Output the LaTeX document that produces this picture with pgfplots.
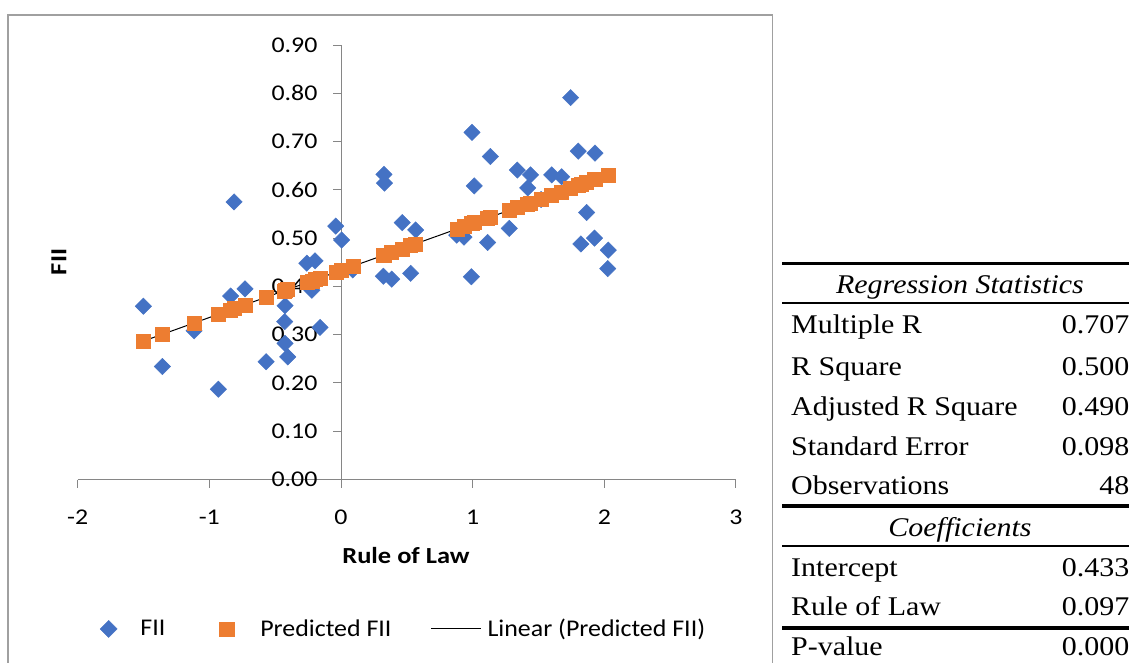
\documentclass[border=0pt]{standalone}
\usepackage{pgfplots}
\pgfplotsset{compat=1.18}
\usepackage{pgfplotstable}
\usepackage{fontspec}
\setmainfont{Carlito}
\newfontfamily\tickfont{Carlito}[FakeStretch=1.15]
\newfontfamily\legfont{Carlito}[FakeStretch=1.08]
\newfontfamily\tabfont{Liberation Serif}[FakeStretch=1.11]
\definecolor{fiiblue}{HTML}{4472C4}
\definecolor{predorange}{HTML}{ED7D31}
\definecolor{axisgray}{HTML}{868686}
\definecolor{framegray}{HTML}{A0A0A0}

\pgfplotstableread{
x y p
-1.501 0.359 0.287
-1.357 0.234 0.301
-1.116 0.308 0.324
-0.932 0.187 0.342
-0.838 0.380 0.351
-0.812 0.575 0.354
-0.729 0.395 0.362
-0.569 0.244 0.378
-0.425 0.360 0.392
-0.428 0.327 0.391
-0.425 0.282 0.392
-0.405 0.254 0.394
-0.260 0.448 0.408
-0.222 0.392 0.411
-0.197 0.453 0.414
-0.159 0.315 0.418
-0.040 0.525 0.429
0.005 0.496 0.433
0.089 0.434 0.442
0.322 0.421 0.464
0.326 0.632 0.465
0.330 0.614 0.465
0.385 0.415 0.471
0.465 0.532 0.478
0.529 0.427 0.485
0.567 0.517 0.488
0.879 0.506 0.519
0.934 0.502 0.524
0.990 0.420 0.530
0.995 0.719 0.530
1.012 0.608 0.532
1.114 0.491 0.542
1.134 0.669 0.544
1.278 0.520 0.558
1.339 0.641 0.564
1.418 0.604 0.571
1.440 0.631 0.573
1.520 0.580 0.581
1.600 0.631 0.589
1.676 0.627 0.596
1.744 0.791 0.603
1.802 0.680 0.609
1.822 0.488 0.611
1.866 0.553 0.615
1.925 0.500 0.621
1.929 0.676 0.621
2.026 0.437 0.631
2.030 0.475 0.631
}\fiidata

\pgfplotstableread{
x y
-1.501 0.2867
2.030 0.6309
}\trenddata

\begin{document}
\begin{tikzpicture}[x=1pt,y=1pt]
\useasboundingbox (0,0) rectangle (1129,662);
\clip (0,0) rectangle (1129,662);
\fill[white] (0,0) rectangle (1129,662);
\draw[framegray, line width=1.4pt] (8,-10) rectangle (772.7,647);
\begin{axis}[
  at={(341pt,182.5pt)}, anchor=origin,
  scale only axis, width=658.3pt, height=434.5pt,
  xmin=-2, xmax=3, ymin=0, ymax=0.9,
  axis lines=middle,
  axis line style={-, draw=axisgray, line width=1pt},
  clip=false,
  hide obscured x ticks=false, hide obscured y ticks=false,
  xtick={-2,-1,0,1,2,3},
  ytick={0,0.1,0.2,0.3,0.4,0.5,0.6,0.7,0.8,0.9},
  tick align=outside,
  major tick length=8pt,
  tick style={draw=axisgray, line width=1pt},
  /pgf/number format/assume math mode=true,
  yticklabel style={/pgf/number format/fixed, /pgf/number format/fixed zerofill, /pgf/number format/precision=2},
  xticklabel style={font=\tickfont\fontsize{22.5}{26}\selectfont, anchor=center, yshift=-30pt},
  yticklabel style={font=\tickfont\fontsize{22.5}{26}\selectfont, anchor=east, xshift=-12pt},
  every axis x label/.style={at={(axis description cs:0.4987,-0.176)}, anchor=center, font=\tickfont\bfseries\fontsize{23}{27}\selectfont},
  every axis y label/.style={at={(axis description cs:-0.0284,0.5006)}, anchor=center, rotate=90, font=\tickfont\bfseries\fontsize{23}{27}\selectfont},
  xlabel={Rule of Law},
  ylabel={FII},
  legend columns=3,
  legend cell align=left,
  legend style={at={(axis description cs:0.0339,-0.344)}, anchor=west, draw=none, fill=none,
    inner sep=0pt, outer sep=0pt, column sep=0pt,
    nodes={inner sep=0pt}, font=\legfont\fontsize{24}{28}\selectfont},
]
\addplot[only marks, mark=square*, mark size=5.8pt,
  mark options={rotate=45, fill=fiiblue, draw=fiiblue},
  legend image code/.code={\fill[fiiblue] (0pt,0pt) -- (8.5pt,8.5pt) -- (17pt,0pt) -- (8.5pt,-8.5pt) -- cycle; \path (40pt,0pt);}
] table[x=x,y=y]{\fiidata};
\addlegendentry{FII}
\addplot[only marks, mark=square*, mark size=7pt,
  mark options={fill=predorange, draw=predorange},
  legend image code/.code={\path (-53.5pt,0pt); \fill[predorange] (0pt,-7pt) rectangle (15pt,7pt); \path (41pt,0pt);}
] table[x=x,y=p]{\fiidata};
\addlegendentry{Predicted FII}
\addplot[black, line width=1pt,
  legend image code/.code={\path (-39pt,0pt); \draw[black,line width=1pt] (0pt,0pt) -- (50pt,0pt); \path (56pt,0pt);}
] table[x=x,y=y]{\trenddata};
\addlegendentry{Linear (Predicted FII)}
\end{axis}

% regression table
\begin{scope}[every node/.style={inner sep=0pt, font=\tabfont\fontsize{27}{32}\selectfont}]
\draw[black, line width=2.5pt] (782,398.7) -- (1140,398.7);
\draw[black, line width=2pt] (782,359.3) -- (1140,359.3);
\draw[black, line width=4pt] (782,156) -- (1140,156);
\draw[black, line width=2.5pt] (782,116) -- (1140,116);
\draw[black, line width=4pt] (782,33.7) -- (1140,33.7);
\node[anchor=base] at (960,368.7) {\itshape Regression Statistics};
\node[anchor=base west] at (791,328) {Multiple R};
\node[anchor=base east] at (1129.5,328) {0.707};
\node[anchor=base west] at (791,287) {R Square};
\node[anchor=base east] at (1129.5,287) {0.500};
\node[anchor=base west] at (791,247) {Adjusted R Square};
\node[anchor=base east] at (1129.5,247) {0.490};
\node[anchor=base west] at (791,207) {Standard Error};
\node[anchor=base east] at (1129.5,207) {0.098};
\node[anchor=base west] at (791,168) {Observations};
\node[anchor=base east] at (1129.5,168) {48};
\node[anchor=base] at (960,125.3) {\itshape Coefficients};
\node[anchor=base west] at (791,85.3) {Intercept};
\node[anchor=base east] at (1129.5,85.3) {0.433};
\node[anchor=base west] at (791,47) {Rule of Law};
\node[anchor=base east] at (1129.5,47) {0.097};
\node[anchor=base west] at (791,7) {P-value};
\node[anchor=base east] at (1129.5,7) {0.000};
\end{scope}
\end{tikzpicture}
\end{document}
